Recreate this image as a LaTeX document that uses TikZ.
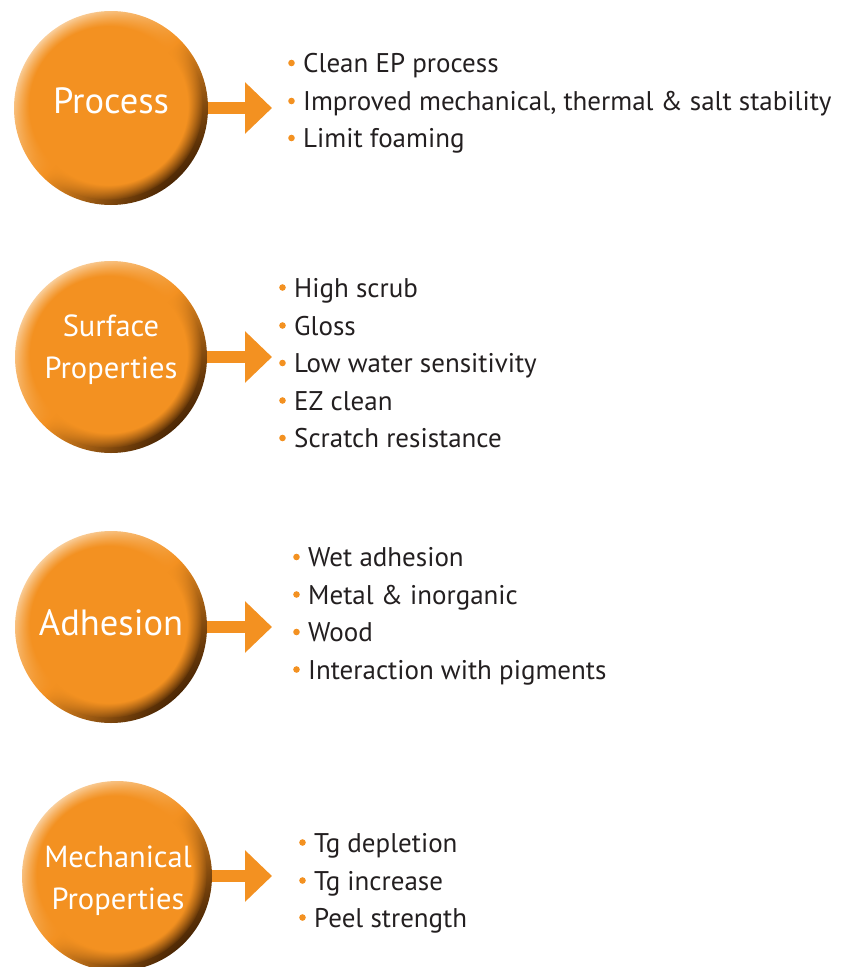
\documentclass[tikz,border=0pt]{standalone}
\usepackage{fontspec}
\setmainfont{PT Sans}
\usetikzlibrary{arrows.meta,fadings,calc}
\definecolor{orbOrange}{HTML}{F39121}
\definecolor{orbLight}{HTML}{FAD2A2}
\definecolor{orbDark}{HTML}{4A2604}
\definecolor{txtGray}{HTML}{231F20}
\pgfdeclareradialshading{orbfadeshade}{\pgfpointorigin}{color(0bp)=(pgftransparent!0); color(21bp)=(pgftransparent!0); color(25bp)=(pgftransparent!100); color(50bp)=(pgftransparent!100)}
\pgfdeclarefading{orbfade}{\pgfuseshading{orbfadeshade}}
\pgfdeclarelayer{arrowlayer}
\pgfdeclarelayer{orblayer}
\pgfsetlayers{arrowlayer,orblayer,main}
\tikzset{
  orbtext/.style={circle, minimum size=190pt, inner sep=0pt},
  orblabel/.style={inner sep=0pt, text=white, align=center, font=\fontsize{36.5}{42}\selectfont},
  orblabeltwo/.style={inner sep=0pt, text=white, align=center, font=\fontsize{30.5}{42}\selectfont},
  item/.style={anchor=base west, inner sep=0pt, text=txtGray, font=\fontsize{27}{30}\selectfont},
  bul/.style={fill=orbOrange},
  arr/.style={draw=orbOrange, line width=12pt, -{Triangle[length=27pt,width=50pt]}},
}
\newcommand\myorb[2]{% #1 name, #2 radius
  \begin{pgfonlayer}{orblayer}
  \shade[top color=orbLight, bottom color=orbDark, middle color=orbOrange, shading angle=45]
    (#1.center) circle (#2);
  \fill[orbOrange, path fading=orbfade] ($(#1.center)+(-2.5,-2.5)$) circle ({0.97*#2});
  \end{pgfonlayer}}
\newcommand\mybullet[1]{\fill[bul] ($(#1.base west)+(-11.5,-9.5)$) circle (3.3);}
\begin{document}
\begin{tikzpicture}[x=1pt,y=-1pt]
\useasboundingbox (0,0) rectangle (842,967);
% circles
\node[orbtext] (c1) at (111,108) {};
\node[orbtext] (c2) at (111,357) {};
\node[orbtext] (c3) at (111,627) {};
\node[orbtext] (c4) at (117,876) {};
\node[orblabel] (l1) at (111,101) {Process};
\node[orblabeltwo] (l2) at (111,350) {Surface\\Properties};
\node[orblabel] (l3) at (111,623) {Adhesion};
\node[orblabeltwo] (l4) at (118,881) {Mechanical\\Properties};
\myorb{c1}{97}
\myorb{c2}{96}
\myorb{c3}{96}
\myorb{c4}{95}
% arrow tips
\coordinate (t1) at (272,108);
\coordinate (t2) at (272,357);
\coordinate (t3) at (272,627);
\coordinate (t4) at (272,876);
\begin{pgfonlayer}{arrowlayer}
\draw[arr] (c1.center) -- (t1);
\draw[arr] (c2.center) -- (t2);
\draw[arr] (c3.center) -- (t3);
\draw[arr] (c4.center) -- (t4);
\end{pgfonlayer}
% lists
\node[item] (a1) at (303,72.5) {Clean EP process};
\node[item] (a2) at (303,110.5) {Improved mechanical, thermal \& salt stability};
\node[item] (a3) at (303,147.5) {Limit foaming};
\node[item] (b1) at (294,297) {High scrub};
\node[item] (b2) at (294,335) {Gloss};
\node[item] (b3) at (294,372.5) {Low water sensitivity};
\node[item] (b4) at (294,410) {EZ clean};
\node[item] (b5) at (294,447.5) {Scratch resistance};
\node[item] (d1) at (308,566.5) {Wet adhesion};
\node[item] (d2) at (308,604) {Metal \& inorganic};
\node[item] (d3) at (308,641.5) {Wood};
\node[item] (d4) at (308,679) {Interaction with pigments};
\node[item] (e1) at (314,852) {Tg depletion};
\node[item] (e2) at (314,890) {Tg increase};
\node[item] (e3) at (314,927) {Peel strength};
\foreach \n in {a1,a2,a3,b1,b2,b3,b4,b5,d1,d2,d3,d4,e1,e2,e3}{\mybullet{\n}}
\end{tikzpicture}
\end{document}
